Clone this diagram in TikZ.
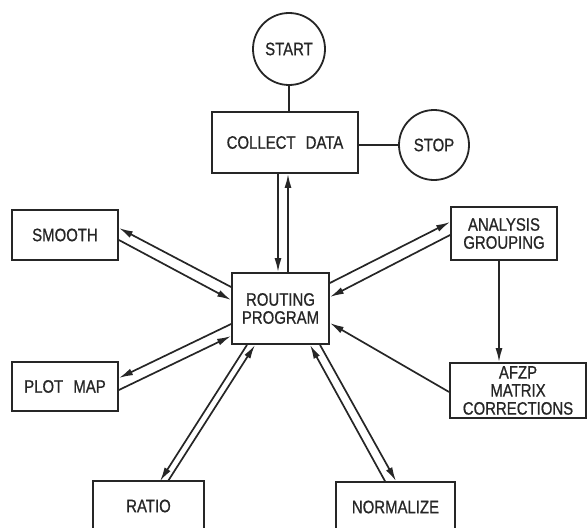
\documentclass[tikz,border=0pt]{standalone}
\usepackage{fontspec}
\setmainfont{Liberation Sans}[FakeStretch=0.83,FakeBold=0.8]
\usetikzlibrary{arrows.meta,calc}
\begin{document}
\begin{tikzpicture}[x=1pt,y=-1pt,
  ink/.style={draw=black!85, line width=1.8pt},
  lbl/.style={font=\fontsize{18}{18}\selectfont, text=black!85},
  box/.style={ink, lbl, rectangle, inner sep=0pt, align=center},
  term/.style={ink, lbl, circle, inner sep=0pt},
  conn/.style={draw=black!85, line width=1.7pt},
  tip/.style={conn, -{Latex[length=14pt,width=7pt]}},
]
\useasboundingbox (0,0) rectangle (588,527);
\clip (0,0) rectangle (588,527);
% nodes
\node[term, minimum size=72pt] (start) at (289,49) {START};
\node[term, minimum size=70pt] (stop) at (434,145) {STOP};
\node[box, minimum width=146pt, minimum height=61pt] (collect) at (285,142.5) {COLLECT\hspace{6pt} DATA};
\node[box, minimum width=97pt, minimum height=71pt] (routing) at (280.5,308.5) {ROUTING\\PROGRAM};
\node[box, minimum width=106pt, minimum height=50pt] (smooth) at (65,235) {SMOOTH};
\node[box, minimum width=106pt, minimum height=53pt] (analysis) at (504,233.5) {ANALYSIS\\GROUPING};
\node[box, minimum width=136pt, minimum height=55pt] (afzp) at (518,390.5) {AFZP\\MATRIX\\CORRECTIONS};
\node[box, minimum width=106pt, minimum height=49pt] (plotmap) at (65,386.5) {PLOT\hspace{6pt} MAP};
\node[box, minimum width=111pt, minimum height=50pt] (ratio) at (148.5,506) {RATIO};
\node[box, minimum width=119pt, minimum height=50pt] (normalize) at (395.5,507) {NORMALIZE};
% plain connectors
\draw[conn] (start.south) -- (start.south |- collect.north);
\draw[conn] (stop.west -| collect.east) -- (stop.west);
% collect <-> routing
\draw[tip] ([xshift=-7pt]collect.south) -- ([xshift=-7pt]collect.south |- routing.north);
\draw[tip] ([xshift=3pt]collect.south |- routing.north) -- ([xshift=3pt]collect.south);
% smooth <-> routing
\draw[tip] ([yshift=21.5pt]routing.west) -- ([yshift=7pt]smooth.east);
\draw[tip] ([yshift=-5pt]smooth.east) -- ([yshift=8.5pt]routing.west);
% plot map <-> routing
\draw[tip] ([yshift=-15.5pt]routing.west) -- ([yshift=8.5pt]plotmap.east);
\draw[tip] ([yshift=-3.5pt]plotmap.east) -- ([yshift=-27.5pt]routing.west);
% ratio <-> routing
\draw[tip] ([xshift=-33.5pt]routing.south) -- ([xshift=11.5pt,yshift=-1pt]ratio.north);
\draw[tip] ([xshift=19.5pt,yshift=-1pt]ratio.north) -- ([xshift=-25.5pt]routing.south);
% normalize <-> routing
\draw[tip] ([xshift=-10.5pt]normalize.north) -- ([xshift=29.5pt]routing.south);
\draw[tip] ([xshift=39.5pt]routing.south) -- ([xshift=0.5pt]normalize.north);
% analysis <-> routing
\draw[tip] ([yshift=25.5pt]routing.east) -- ([yshift=11.5pt]analysis.west);
\draw[tip] ([yshift=-1.5pt]analysis.west) -- ([yshift=11.5pt]routing.east);
% analysis -> afzp
\draw[tip] ([xshift=-5pt]analysis.south) -- ([xshift=-5pt]analysis.south |- afzp.north);
% afzp -> routing
\draw[tip] ([yshift=-1.5pt]afzp.west) -- ([yshift=-14.5pt]routing.east);
\end{tikzpicture}
\end{document}
